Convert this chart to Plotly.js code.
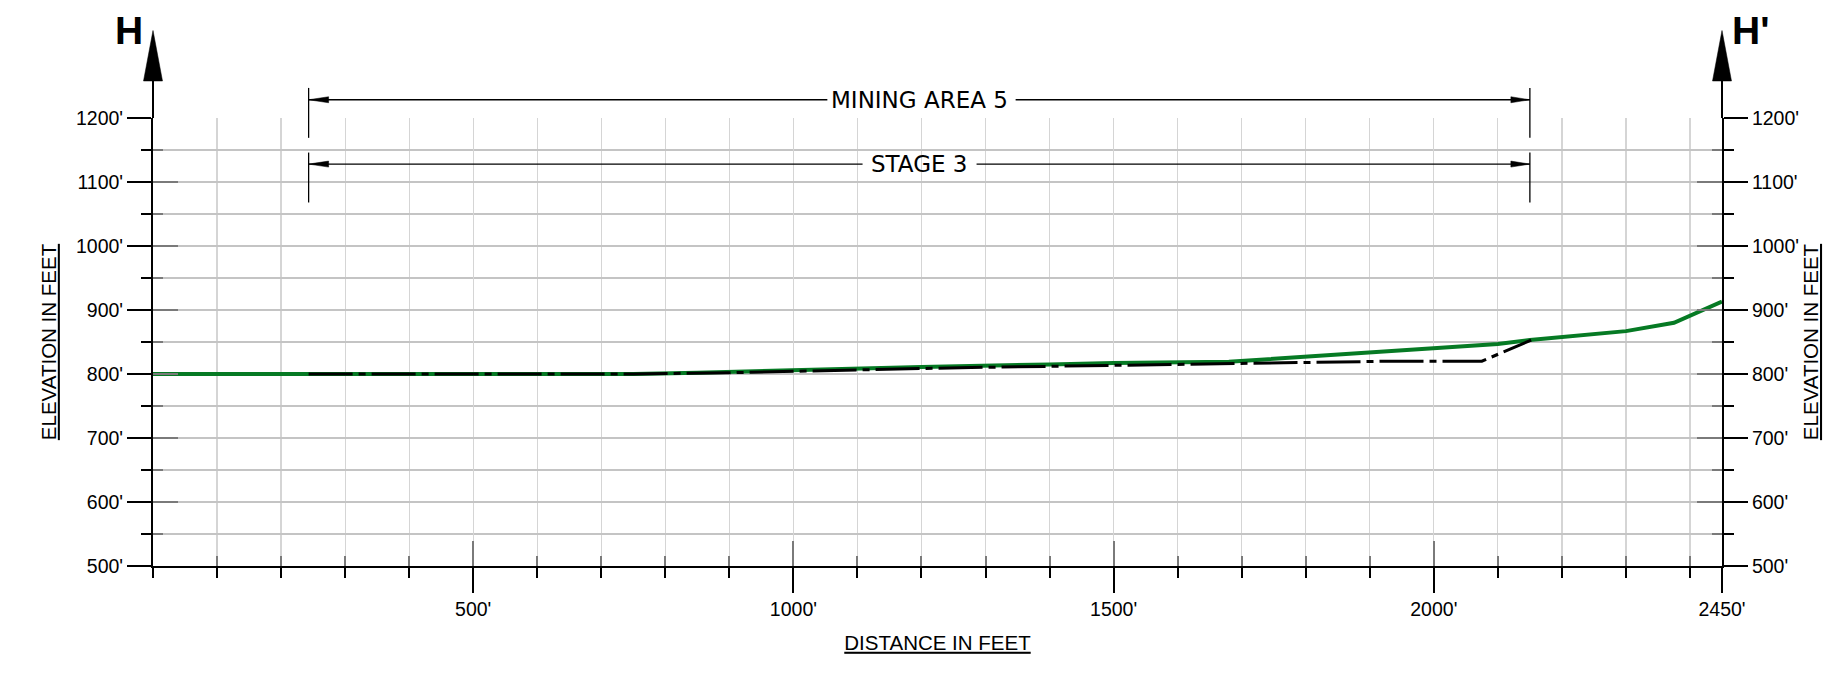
<!DOCTYPE html>
<html>
<head>
<meta charset="utf-8">
<script src="https://cdn.plot.ly/plotly-3.0.1.min.js"></script>
<style>html,body{margin:0;padding:0;background:#fff;}#chart{width:1828px;height:673px;}</style>
</head>
<body>
<div id="chart"></div>
<script>
// ---- data (feet) ----
const groundDist = [0, 250, 500, 750, 850, 1000, 1200, 1400, 1500, 1680, 1800, 1900, 2000, 2100, 2150, 2230, 2300, 2375, 2450];
const groundElev = [800, 800, 800, 800, 802, 806, 811, 815, 817, 819, 827, 834, 840, 847, 853, 860, 867, 880, 913];

const gradeDist = [243, 750, 900, 1000, 1100, 1200, 1300, 1400, 1500, 1600, 1700, 1800, 1930, 2075, 2152];
const gradeElev = [800, 800, 802, 804.5, 806.5, 808.5, 810.5, 812, 813, 814.5, 816, 817.5, 820, 820, 853];

const xTickVals = [500, 1000, 1500, 2000, 2450];
const xTickText = ["500'", "1000'", "1500'", "2000'", "2450'"];
const yTickVals = [500, 600, 700, 800, 900, 1000, 1100, 1200];
const yTickText = ["500'", "600'", "700'", "800'", "900'", "1000'", "1100'", "1200'"];

// dimension lines: label, elevation of line, start/end distance, text gap, extension range
const dimLabels = ["MINING AREA 5", "STAGE 3"];
const dimElev = [1228.5, 1128];
const dimStart = [243, 243];
const dimEnd = [2150, 2150];
const dimGapL = [1053, 1108];
const dimGapR = [1347, 1286];
const dimExtLo = [1169, 1068];
const dimExtHi = [1247, 1146];

const X_RANGE = [0, 2450];
const Y_RANGE = [500, 1200];

const FONT = 'Liberation Sans, Arial, sans-serif';
const GRID_X = '#d5d5d5';
const GRID_Y = '#c4c4c4';
const GRAY_TICK = '#7a7a7a';

function pY(e) { return (e - Y_RANGE[0]) / (Y_RANGE[1] - Y_RANGE[0]); }

const traces = [
  {x: groundDist, y: groundElev, type: 'scatter', mode: 'lines',
   line: {color: '#067a24', width: 4}, hoverinfo: 'skip', showlegend: false},
  {x: gradeDist, y: gradeElev, type: 'scatter', mode: 'lines',
   line: {color: '#000000', width: 3, dash: '44px,6px,7px,6px'}, hoverinfo: 'skip', showlegend: false}
];
// anchor-only traces so the overlaid tick axes are drawn (no visible mark)
[['x2', 'y'], ['x', 'y2'], ['x', 'y3'], ['x', 'y4']].forEach(function (p) {
  traces.push({x: [X_RANGE[0]], y: [Y_RANGE[0]], xaxis: p[0], yaxis: p[1], type: 'scatter', mode: 'lines',
    line: {width: 0}, hoverinfo: 'skip', showlegend: false});
});

const shapes = [];
const annotations = [];

// axis extensions and arrows
[0, 1].forEach(function (px) {
  shapes.push({type: 'line', xref: 'paper', x0: px, x1: px, yref: 'paper', ysizemode: 'pixel', yanchor: 1,
    y0: 0, y1: 40, line: {color: '#000', width: 2}});
  shapes.push({type: 'path', xref: 'paper', xsizemode: 'pixel', xanchor: px, yref: 'paper', ysizemode: 'pixel', yanchor: 1,
    path: 'M-9.5,37 L9.5,37 L0,87.5 Z', fillcolor: '#000', line: {color: '#000', width: 0.5}});
});

annotations.push({xref: 'paper', yref: 'paper', x: 0, y: 1, xanchor: 'right', yanchor: 'bottom', xshift: -8, yshift: 64,
  text: '<b>H</b>', showarrow: false, font: {family: FONT, size: 39, color: '#000'}});
annotations.push({xref: 'paper', yref: 'paper', x: 1, y: 1, xanchor: 'left', yanchor: 'bottom', xshift: 8, yshift: 64,
  text: "<b>H'</b>", showarrow: false, font: {family: FONT, size: 39, color: '#000'}});

// dimension lines
dimLabels.forEach(function (lab, i) {
  const yy = pY(dimElev[i]);
  const ln = {color: '#000', width: 1.3};
  shapes.push({type: 'line', xref: 'x', yref: 'paper', x0: dimStart[i], x1: dimGapL[i], y0: yy, y1: yy, line: ln});
  shapes.push({type: 'line', xref: 'x', yref: 'paper', x0: dimGapR[i], x1: dimEnd[i], y0: yy, y1: yy, line: ln});
  shapes.push({type: 'line', xref: 'x', yref: 'paper', x0: dimStart[i], x1: dimStart[i], y0: pY(dimExtLo[i]), y1: pY(dimExtHi[i]), line: ln});
  shapes.push({type: 'line', xref: 'x', yref: 'paper', x0: dimEnd[i], x1: dimEnd[i], y0: pY(dimExtLo[i]), y1: pY(dimExtHi[i]), line: ln});
  shapes.push({type: 'path', xref: 'x', xsizemode: 'pixel', xanchor: dimStart[i], yref: 'paper', ysizemode: 'pixel', yanchor: yy,
    path: 'M0,0 L20,3 L20,-3 Z', fillcolor: '#000', line: {color: '#000', width: 0.5}});
  shapes.push({type: 'path', xref: 'x', xsizemode: 'pixel', xanchor: dimEnd[i], yref: 'paper', ysizemode: 'pixel', yanchor: yy,
    path: 'M0,0 L-19,3 L-19,-3 Z', fillcolor: '#000', line: {color: '#000', width: 0.5}});
  annotations.push({xref: 'x', yref: 'paper', x: (dimStart[i] + dimEnd[i]) / 2, y: yy, xanchor: 'center', yanchor: 'middle',
    text: lab, showarrow: false, font: {family: 'DejaVu Sans, sans-serif', size: 23, color: '#000'}});
});

const tickFont = {family: FONT, size: 19.5, color: '#000'};
const titleFont = {family: FONT, size: 20.5, color: '#000'};

const layout = {
  width: 1828, height: 673,
  margin: {l: 153, r: 106, t: 118, b: 107, pad: 0},
  paper_bgcolor: '#fff', plot_bgcolor: '#fff',
  showlegend: false,
  xaxis: {
    range: X_RANGE, tickmode: 'array', tickvals: xTickVals, ticktext: xTickText,
    ticks: 'outside', ticklen: 25, tickwidth: 2, tickcolor: '#000',
    showline: true, linecolor: '#000', linewidth: 2, zeroline: false,
    showgrid: true, gridcolor: GRID_X, gridwidth: 1.2,
    minor: {tick0: 0, dtick: 100, ticks: 'outside', ticklen: 10, tickwidth: 2, tickcolor: '#000', showgrid: true, gridcolor: GRID_X, gridwidth: 1.2},
    tickfont: tickFont,
    title: {text: '<u>DISTANCE IN FEET</u>', font: titleFont, standoff: 16},
    fixedrange: true
  },
  xaxis2: {
    range: X_RANGE, overlaying: 'x', anchor: 'y', side: 'bottom',
    tickmode: 'array', tickvals: xTickVals, ticks: 'inside', ticklen: 25, tickwidth: 2, tickcolor: GRAY_TICK,
    showticklabels: false, showline: false, showgrid: false, zeroline: false,
    minor: {tick0: 0, dtick: 100, ticks: 'inside', ticklen: 10, tickwidth: 2, tickcolor: GRAY_TICK, showgrid: false},
    fixedrange: true
  },
  yaxis: {
    range: Y_RANGE, tickmode: 'array', tickvals: yTickVals, ticktext: yTickText,
    ticks: 'outside', ticklen: 24, tickwidth: 2, tickcolor: '#000',
    showline: true, linecolor: '#000', linewidth: 2, zeroline: false,
    showgrid: true, gridcolor: GRID_Y, gridwidth: 1.2,
    minor: {tick0: 500, dtick: 50, ticks: 'outside', ticklen: 10, tickwidth: 2, tickcolor: '#000', showgrid: true, gridcolor: GRID_Y, gridwidth: 1.2},
    tickfont: tickFont,
    title: {text: '<u>ELEVATION IN FEET</u>', font: titleFont, standoff: 14},
    fixedrange: true
  },
  yaxis2: {
    range: Y_RANGE, overlaying: 'y', anchor: 'x', side: 'left',
    tickmode: 'array', tickvals: yTickVals, ticks: 'inside', ticklen: 25, tickwidth: 2, tickcolor: GRAY_TICK,
    showticklabels: false, showline: false, showgrid: false, zeroline: false,
    minor: {tick0: 500, dtick: 50, ticks: 'inside', ticklen: 10, tickwidth: 2, tickcolor: GRAY_TICK, showgrid: false},
    fixedrange: true
  },
  yaxis3: {
    range: Y_RANGE, overlaying: 'y', anchor: 'x', side: 'right',
    tickmode: 'array', tickvals: yTickVals, ticktext: yTickText,
    ticks: 'outside', ticklen: 24, tickwidth: 2, tickcolor: '#000',
    showline: true, linecolor: '#000', linewidth: 2, showgrid: false, zeroline: false,
    minor: {tick0: 500, dtick: 50, ticks: 'outside', ticklen: 10, tickwidth: 2, tickcolor: '#000', showgrid: false},
    tickfont: tickFont,
    title: {text: '<u>ELEVATION IN FEET</u>', font: titleFont, standoff: 2},
    fixedrange: true
  },
  yaxis4: {
    range: Y_RANGE, overlaying: 'y', anchor: 'x', side: 'right',
    tickmode: 'array', tickvals: yTickVals, ticks: 'inside', ticklen: 25, tickwidth: 2, tickcolor: GRAY_TICK,
    showticklabels: false, showline: false, showgrid: false, zeroline: false,
    minor: {tick0: 500, dtick: 50, ticks: 'inside', ticklen: 10, tickwidth: 2, tickcolor: GRAY_TICK, showgrid: false},
    fixedrange: true
  },
  shapes: shapes,
  annotations: annotations
};

Plotly.newPlot('chart', traces, layout, {staticPlot: true, displayModeBar: false});
</script>
</body>
</html>
